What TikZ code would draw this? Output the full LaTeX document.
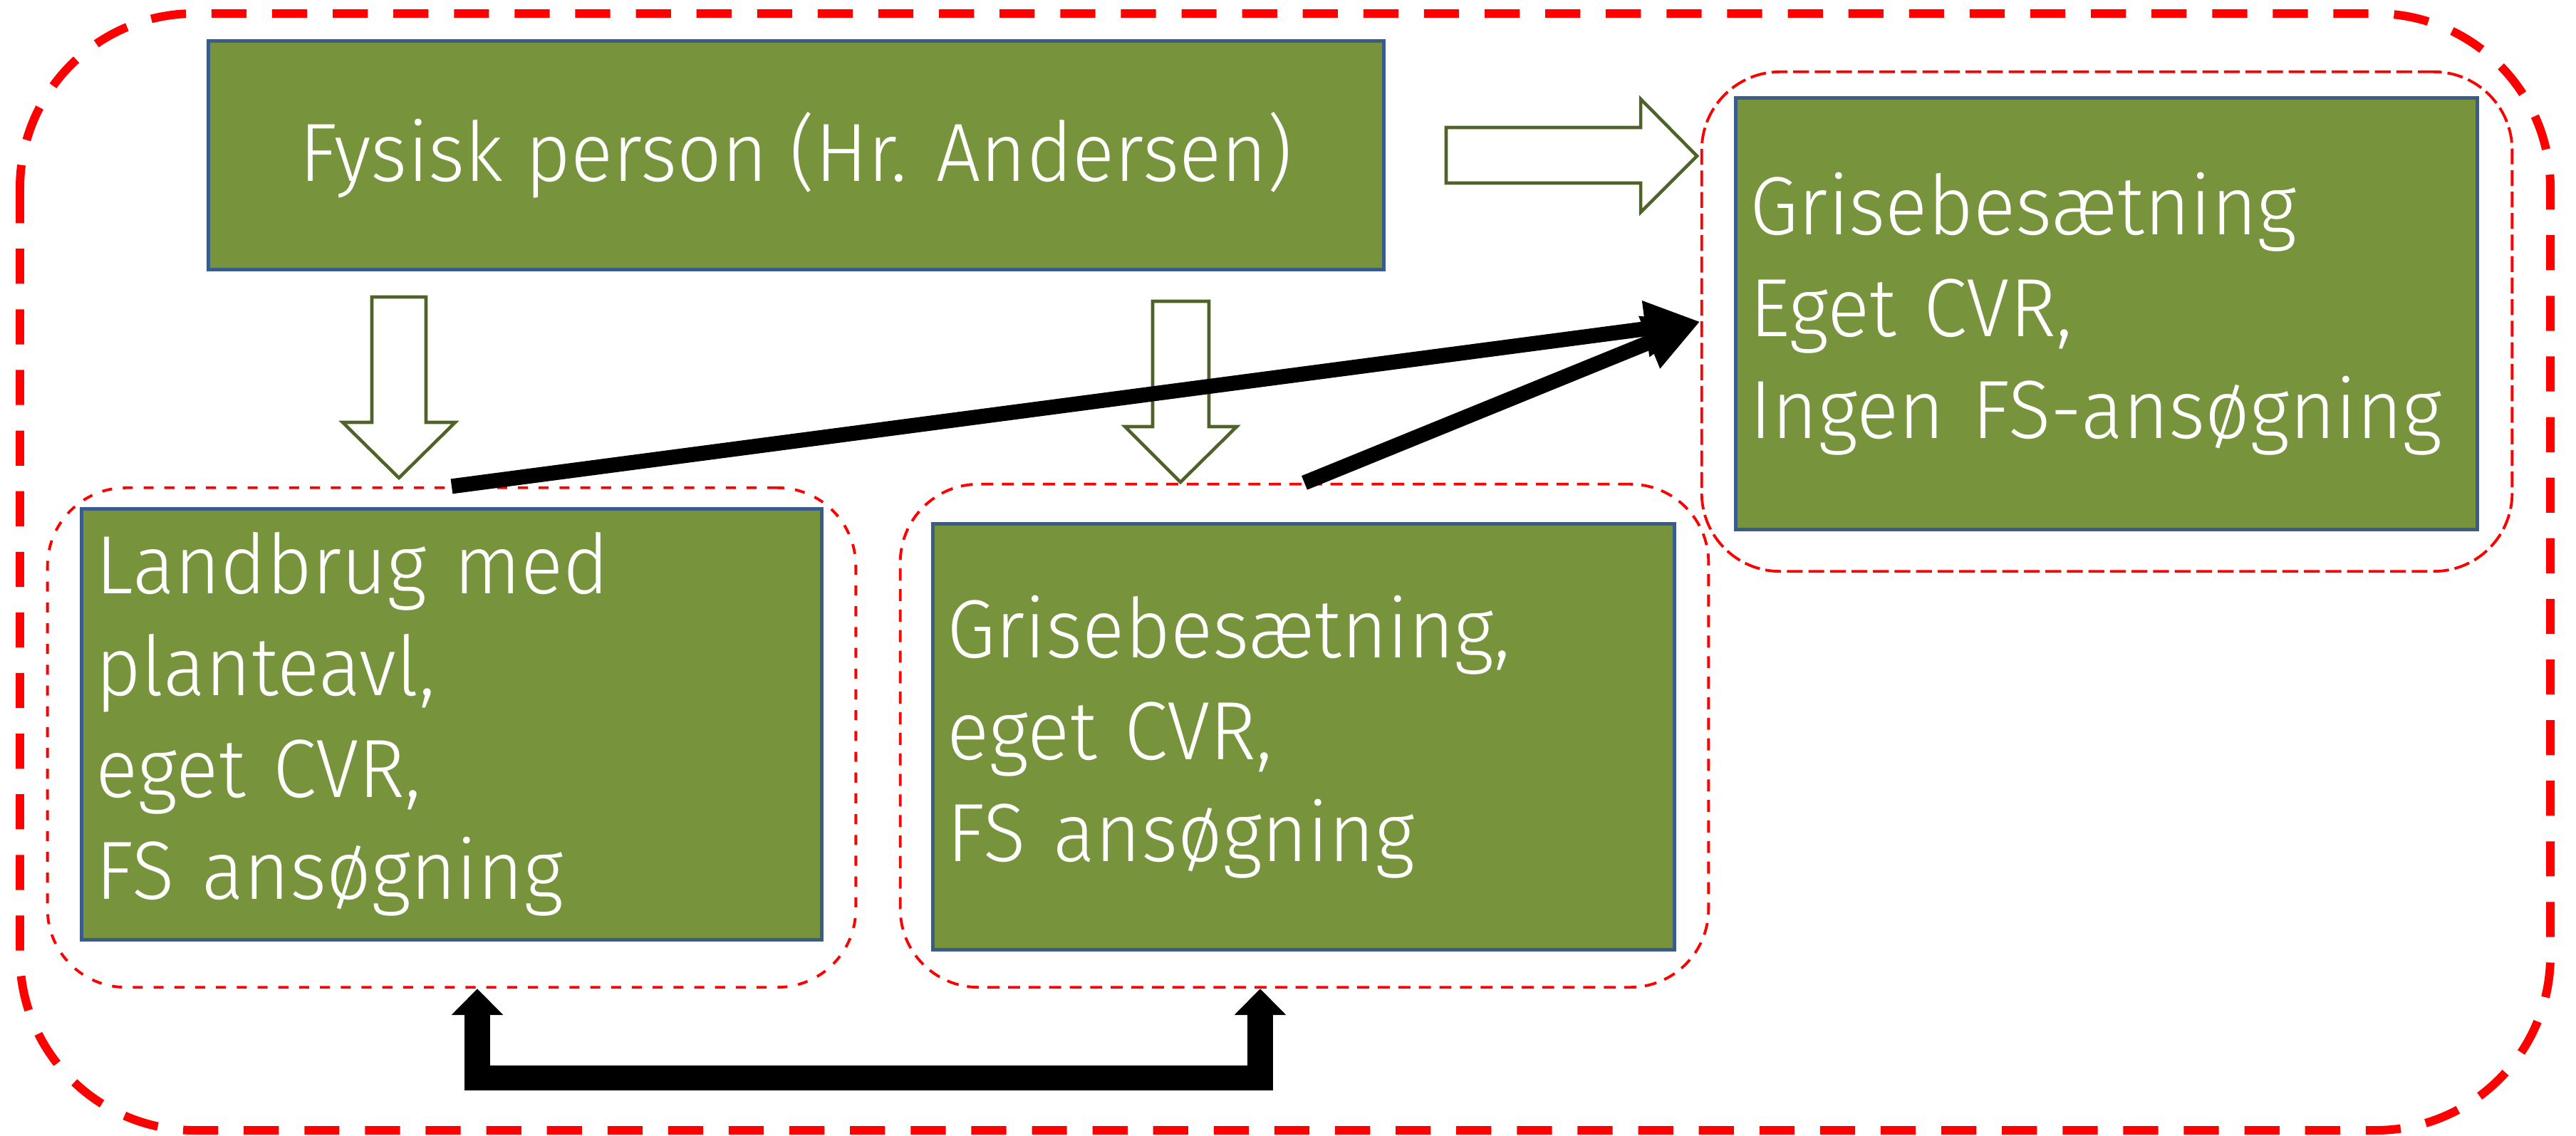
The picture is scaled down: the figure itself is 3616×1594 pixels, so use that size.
\documentclass[tikz,border=0pt]{standalone}
\usepackage{fontspec}
\setmainfont{Fira Sans Light}[FakeStretch=0.95]
\usetikzlibrary{arrows.meta}
\definecolor{boxgreen}{HTML}{77933C}
\definecolor{boxblue}{HTML}{385D8A}
\definecolor{arrowolive}{HTML}{4F6228}
\begin{document}
\begin{tikzpicture}[x=0.01cm,y=-0.01cm,
  box/.style={draw=boxblue, line width=1.4pt, fill=boxgreen, text=white,
    font=\fontsize{33}{40.7}\selectfont, inner sep=0pt},
  grp/.style={draw=red, line width=1.1pt, rounded corners=1.1cm, inner sep=0pt},
  hollow/.style={draw=arrowolive, line width=1.3pt, fill=white, line join=miter},
  slant/.style={line width=6pt, -{Triangle[length=22pt,width=21pt]}},
  elbow/.style={line width=10pt, line join=miter,
    {Triangle[length=10.5pt,width=20pt]}-{Triangle[length=10.5pt,width=20pt]}}]
\useasboundingbox (0,0) rectangle (3616,1594);
% outer group
\draw[red, line width=3.4pt, dash pattern=on 14pt off 10.2pt, rounded corners=2.45cm]
  (28,19) rectangle (3580,1587);
% top box
\node[box, minimum width=16.49cm, minimum height=3.2cm] (top) at (1117.5,218)
  {Fysisk person (Hr. Andersen)};
% right group
\node[grp, minimum width=11.37cm, minimum height=7.01cm, dash pattern=on 6.3pt off 2.3pt]
  (rc) at (2957.5,451.5) {};
\node[box, minimum height=6.05cm, text width=10.0cm, inner xsep=0.2cm, align=left]
  (rb) at (2957,440.5) {Grisebesætning\\Eget CVR,\\\mbox{Ingen FS-ansøgning}};
% left group
\node[grp, minimum width=11.34cm, minimum height=7.01cm, dash pattern=on 4pt off 4.3pt]
  (lc) at (634,1035.5) {};
\node[box, minimum height=6.04cm, text width=9.98cm, inner xsep=0.2cm, align=left]
  (lb) at (634,1017) {Landbrug med\\planteavl,\\eget CVR,\\FS ansøgning};
% middle group
\node[grp, minimum width=11.34cm, minimum height=7.06cm, dash pattern=on 4.8pt off 3.4pt]
  (mc) at (1831,1033) {};
\node[box, minimum height=5.97cm, text width=10.0cm, inner xsep=0.2cm, align=left]
  (mb) at (1830,1034.5) {Grisebesætning,\\eget CVR,\\FS ansøgning};
% hollow block arrows
\draw[hollow] (2030,179) -- (2303,179) -- (2303,139) -- (2382,219) -- (2303,298)
  -- (2303,257) -- (2030,257) -- cycle;
\draw[hollow] (522,417) -- (598,417) -- (598,593) -- (639,593) -- (560,671)
  -- (481,593) -- (522,593) -- cycle;
\draw[hollow] (1618,423) -- (1697,423) -- (1697,599) -- (1736,599) -- (1657,677)
  -- (1579,599) -- (1618,599) -- cycle;
% black arrows
\draw[slant] (lc.north) -- (rc.west);
\draw[slant] (mc.north) -- (rc.west);
\coordinate (e1) at ([xshift=0.36cm]lc.south);
\coordinate (e2) at ([xshift=-0.62cm]mc.south);
\draw[elbow] (e1) -- ++(0,125) -| (e2);
\end{tikzpicture}
\end{document}
